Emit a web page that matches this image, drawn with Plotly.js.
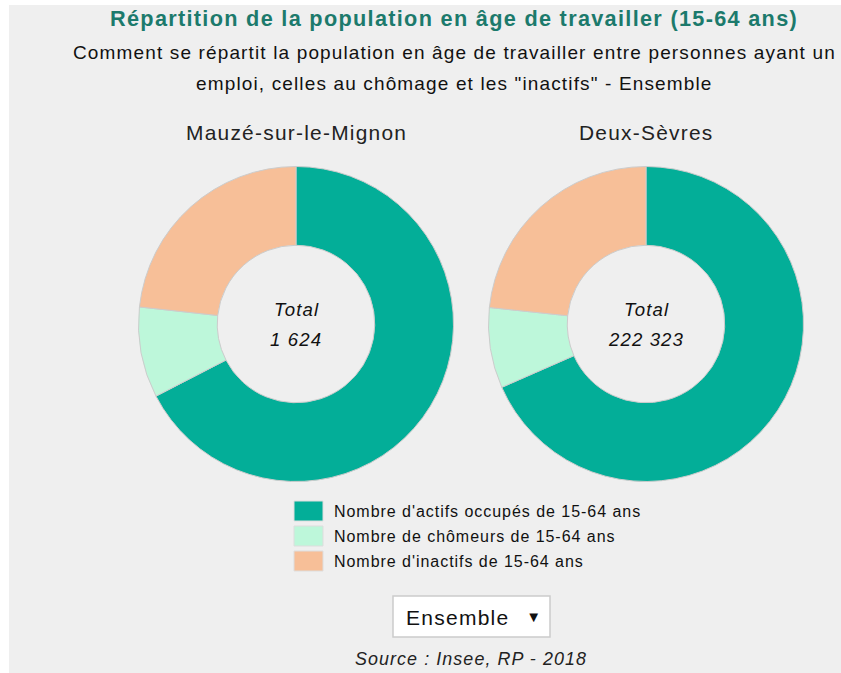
<!DOCTYPE html>
<html>
<head>
<meta charset="utf-8">
<script src="https://cdn.plot.ly/plotly-3.0.1.min.js"></script>
<style>
  html, body { margin: 0; padding: 0; background: #ffffff; }
  #chart { position: absolute; left: 9px; top: 5px; width: 832px; height: 668px; }
  text { letter-spacing: 0.06em; }
  .updatemenu-header-arrow { font-size: 15px !important; letter-spacing: 0 !important; transform: translate(7px, -3px); }
</style>
</head>
<body>
<div id="chart"></div>
<script>
// ---- Data ----
const categories = [
  "Nombre d'actifs occupés de 15-64 ans",
  "Nombre de chômeurs de 15-64 ans",
  "Nombre d'inactifs de 15-64 ans"
];
const territories = ["Mauzé-sur-le-Mignon", "Deux-Sèvres"];
const valuesMauze = [1095, 151, 378];
const valuesDeuxSevres = [152100, 18350, 51873];
const colors = ["#03ae98", "#bdf7da", "#f7bf98"];
const mainTitle = "Répartition de la population en âge de travailler (15-64 ans)";
const subtitleLines = [
  "Comment se répartit la population en âge de travailler entre personnes ayant un",
  "emploi, celles au chômage et les \"inactifs\" - Ensemble"
];
const menuLabels = ["Ensemble"];
const sourceText = "Source : Insee, RP - 2018";

// ---- Helpers ----
const W = 832, H = 668;
const px = x => x / W;
const py = y => 1 - y / H;
const fmt = n => String(n).replace(/\B(?=(\d{3})+(?!\d))/g, " ");
const FONT = "Liberation Sans, Arial, sans-serif";

const centers = [[287, 319], [637, 319]];
const R = 157.5;
const allValues = [valuesMauze, valuesDeuxSevres];

const traces = allValues.map((vals, i) => ({
  type: "pie",
  labels: categories,
  values: vals,
  hole: 0.5,
  sort: false,
  direction: "clockwise",
  rotation: 0,
  textinfo: "none",
  hoverinfo: "label+value+percent",
  marker: { colors: colors, line: { color: "#cccccc", width: 1 } },
  domain: {
    x: [px(centers[i][0] - R), px(centers[i][0] + R)],
    y: [py(centers[i][1] + R), py(centers[i][1] - R)]
  },
  showlegend: false
}));

const annotations = [];
annotations.push({
  text: "<b>" + mainTitle + "</b>", x: px(445), y: py(13), xref: "paper", yref: "paper",
  showarrow: false, xanchor: "center", yanchor: "middle",
  font: { family: FONT, size: 21.7, color: "#1c7a6c" }
});
subtitleLines.forEach((t, k) => annotations.push({
  text: t, x: px(445), y: py(47 + 32 * k), xref: "paper", yref: "paper",
  showarrow: false, xanchor: "center", yanchor: "middle",
  font: { family: FONT, size: 19, color: "#111111" }
}));
territories.forEach((t, i) => {
  annotations.push({
    text: t, x: px(centers[i][0]), y: py(128), xref: "paper", yref: "paper",
    showarrow: false, xanchor: "center", yanchor: "middle",
    font: { family: FONT, size: 20.9, color: "#222222" }
  });
  const total = allValues[i].reduce((a, b) => a + b, 0);
  annotations.push({
    text: "<i>Total</i>", x: px(centers[i][0]), y: py(centers[i][1] - 15), xref: "paper", yref: "paper",
    showarrow: false, xanchor: "center", yanchor: "middle",
    font: { family: FONT, size: 18.6, color: "#111111" }
  });
  annotations.push({
    text: "<i>" + fmt(total) + "</i>", x: px(centers[i][0]), y: py(centers[i][1] + 15), xref: "paper", yref: "paper",
    showarrow: false, xanchor: "center", yanchor: "middle",
    font: { family: FONT, size: 18.6, color: "#111111" }
  });
});

// custom legend
const shapes = [];
categories.forEach((c, k) => {
  const yc = 506 + 25 * k;
  shapes.push({
    type: "rect", xref: "paper", yref: "paper",
    x0: px(285), x1: px(314), y0: py(yc + 10), y1: py(yc - 10),
    fillcolor: colors[k], line: { color: "#dddddd", width: 1 }
  });
  annotations.push({
    text: c, x: px(323), y: py(yc), xref: "paper", yref: "paper",
    showarrow: false, xanchor: "left", yanchor: "middle",
    font: { family: FONT, size: 16, color: "#111111" }
  });
});

// dropdown frame
shapes.push({
  type: "rect", xref: "paper", yref: "paper",
  x0: px(384), x1: px(541), y0: py(632), y1: py(591),
  fillcolor: "#ffffff", line: { color: "#cccccc", width: 1.5 }
});

annotations.push({
  text: "<i>" + sourceText + "</i>", x: px(462), y: py(654), xref: "paper", yref: "paper",
  showarrow: false, xanchor: "center", yanchor: "middle",
  font: { family: FONT, size: 17.9, color: "#222222" }
});

const layout = {
  width: W, height: H,
  margin: { l: 0, r: 0, t: 0, b: 0 },
  paper_bgcolor: "#efefef",
  plot_bgcolor: "#efefef",
  showlegend: false,
  annotations: annotations,
  shapes: shapes,
  updatemenus: [{
    type: "dropdown",
    buttons: menuLabels.map(l => ({ label: l, method: "skip", args: [] })),
    active: 0,
    x: px(385), y: py(616), xanchor: "left", yanchor: "middle",
    bgcolor: "rgba(255,255,255,0)", bordercolor: "rgba(0,0,0,0)", borderwidth: 0,
    font: { family: FONT, size: 21, color: "#111111" },
    pad: { t: 0, b: 0, l: 0, r: 0 },
    showactive: true
  }]
};

Plotly.newPlot("chart", traces, layout, { displayModeBar: false });
</script>
</body>
</html>
